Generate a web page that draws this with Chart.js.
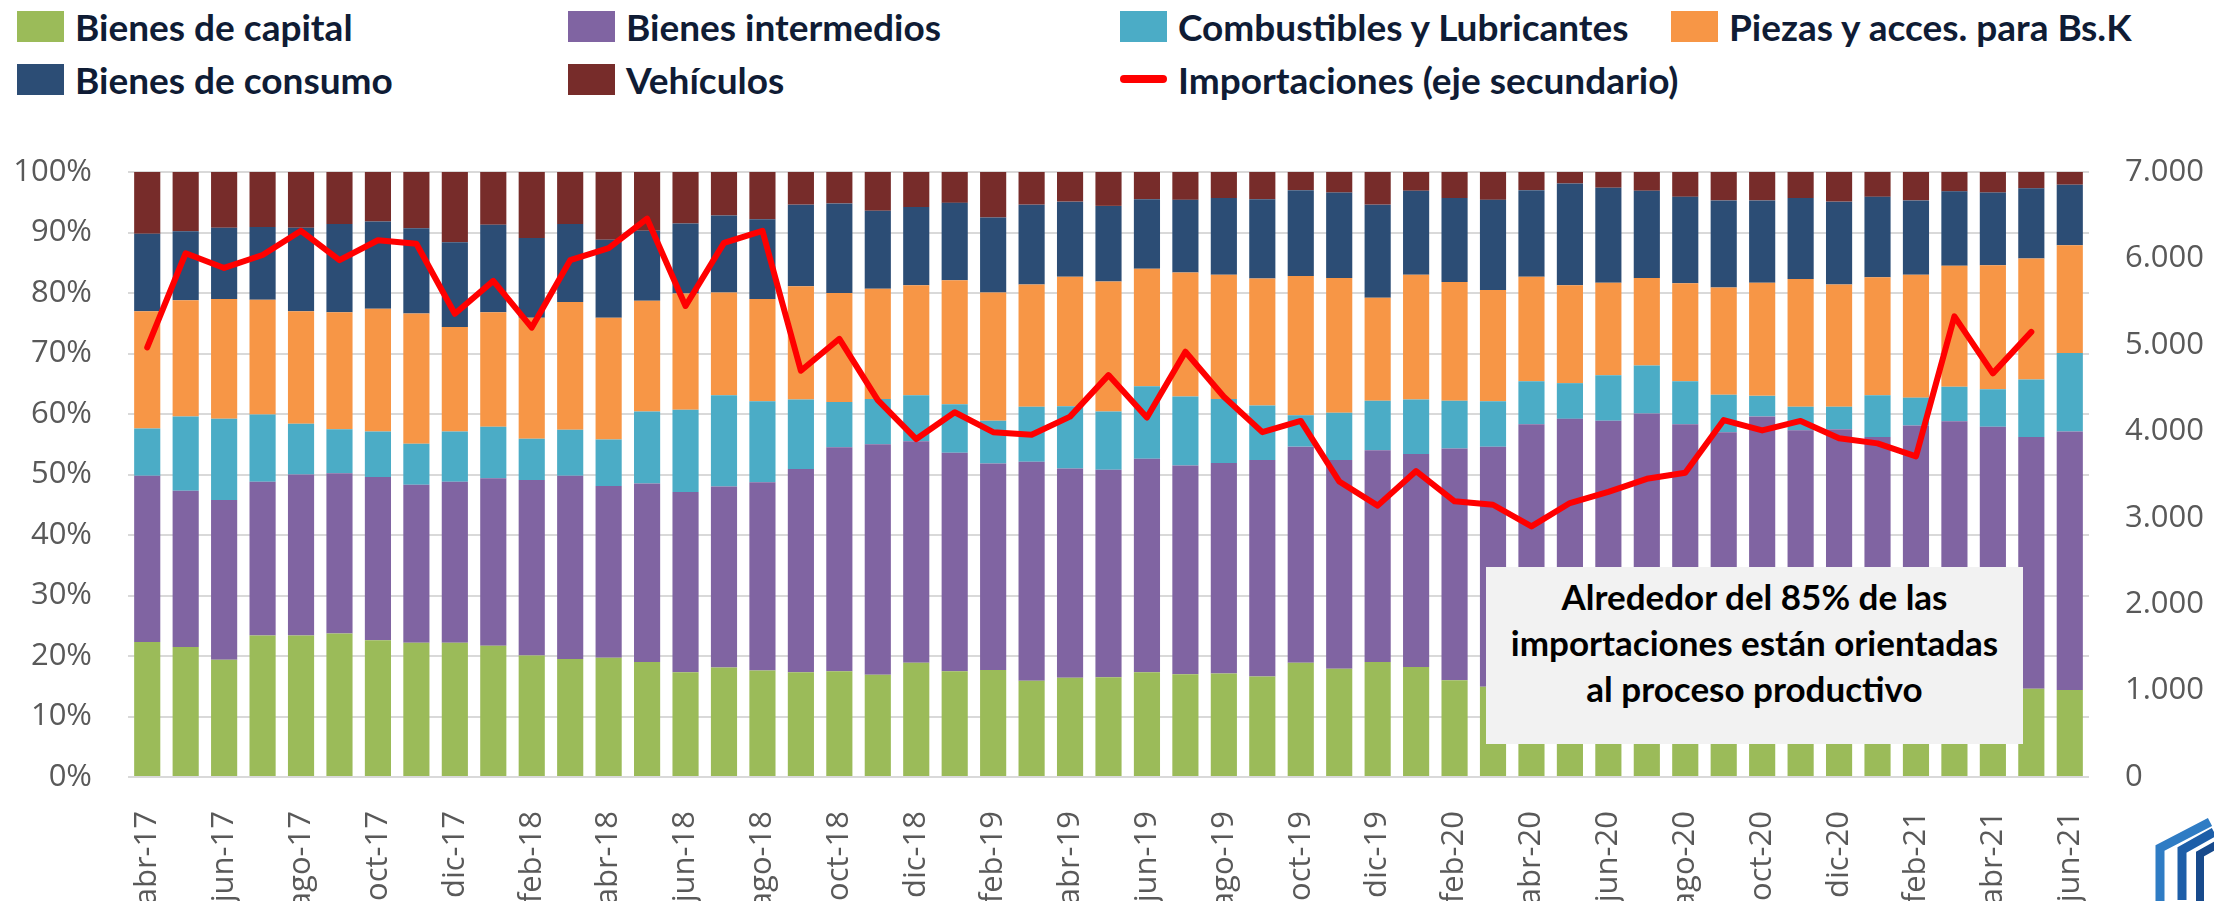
<!DOCTYPE html>
<html lang="es">
<head>
<meta charset="utf-8">
<script src="https://cdn.jsdelivr.net/npm/chart.js"></script>
<style>
  body { margin: 0; width: 2214px; height: 901px; overflow: hidden; background: #fff; position: relative; }
  #wrap { position: absolute; left: 0; top: 0; width: 2214px; height: 960px; }
  #legend { position: absolute; left: 17px; top: 9px; display: grid;
            grid-template-columns: 551px 552px 551px 520px; grid-auto-rows: 34px; row-gap: 19px; }
  .item { display: flex; align-items: center; font: 700 37px 'Lato', sans-serif; color: #0f1c35; white-space: nowrap; }
  .swatch { width: 47px; height: 31px; margin-right: 11px; flex: none; }
  .swatch.line { height: 8px; border-radius: 4px; }
  #nota { position: absolute; left: 1486px; top: 567px; width: 537px; height: 177px; background: #f2f2f2;
          box-sizing: border-box; padding-top: 6px; text-align: center;
          font: 700 35px/46px 'Lato', sans-serif; color: #000; }
  .logo { position: absolute; left: 2138px; top: 818px; width: 80px; height: 90px; }
</style>
</head>
<body>

<div id="legend"></div>
<div id="wrap"><canvas id="importChart"></canvas></div>
<div id="nota">Alrededor del 85% de las<br>importaciones están orientadas<br>al proceso productivo</div>

<svg class="logo" viewBox="0 0 80 90">
  <polyline points="76,14 44,32 44,82" fill="none" stroke="#1d5ea8" stroke-width="9"/>
  <polyline points="72,4 22,30 22,90" fill="none" stroke="#2f7cc4" stroke-width="9"/>
  <polyline points="80,26 62,36 62,90" fill="none" stroke="#174a8c" stroke-width="8"/>
</svg>

<script>
  const meses = [
    'abr-17','may-17','jun-17','jul-17','ago-17','sep-17','oct-17','nov-17','dic-17',
    'ene-18','feb-18','mar-18','abr-18','may-18','jun-18','jul-18','ago-18','sep-18','oct-18','nov-18','dic-18',
    'ene-19','feb-19','mar-19','abr-19','may-19','jun-19','jul-19','ago-19','sep-19','oct-19','nov-19','dic-19',
    'ene-20','feb-20','mar-20','abr-20','may-20','jun-20','jul-20','ago-20','sep-20','oct-20','nov-20','dic-20',
    'ene-21','feb-21','mar-21','abr-21','may-21','jun-21'
  ];

  // participación de cada uso económico (%)
  const capital = [22.3,21.5,19.4,23.4,23.4,23.7,22.6,22.2,22.2,21.7, 20.1,19.5,19.7,19.0,17.3,18.1,17.6,17.3,17.5,16.9,
    18.9,17.5,17.7,15.9,16.4,16.5,17.3,17.0,17.1,16.6, 18.9,17.9,19.0,18.2,16.0,14.9,15.3,15.2,15.5,15.6,
    15.4,15.0,15.3,15.1,14.9,15.0,14.8,14.9,14.7,14.6, 14.4];
  const intermedios = [27.5,25.8,26.4,25.4,26.6,26.5,27.0,26.1,26.6,27.7, 29.0,30.3,28.4,29.5,29.8,29.9,31.1,33.6,37.0,38.1,
    36.6,36.1,34.1,36.2,34.6,34.3,35.3,34.5,34.8,35.8, 35.7,34.5,35.0,35.2,38.3,39.7,43.0,44.0,43.4,44.5,
    42.9,42.0,44.3,42.2,42.6,41.2,43.3,43.9,43.2,41.6, 42.7];
  const combustibles = [7.8,12.3,13.4,11.1,8.4,7.3,7.5,6.8,8.3,8.5, 6.8,7.6,7.7,11.9,13.6,15.1,13.4,11.5,7.5,7.5,
    7.6,8.0,7.1,9.1,10.3,9.6,12.0,11.4,10.6,9.0, 5.2,7.8,8.2,9.0,7.9,7.5,7.1,5.9,7.5,7.9,
    7.1,6.2,3.4,3.9,3.7,6.9,4.6,5.7,6.2,9.5, 13.0];
  const piezas = [19.4,19.2,19.8,19.0,18.6,19.3,20.3,21.5,17.3,18.9, 20.0,21.1,20.1,18.3,19.2,17.0,16.9,18.7,18.0,18.2,
    18.2,20.5,21.2,20.2,21.4,21.5,19.4,20.5,20.5,21.0, 23.0,22.3,17.0,20.6,19.6,18.4,17.3,16.2,15.3,14.5,
    16.2,17.7,18.7,21.1,20.2,19.5,20.3,20.0,20.5,20.0, 17.8];
  const consumo = [12.8,11.4,11.8,12.0,13.8,14.6,14.4,14.1,14.0,14.5, 13.2,12.9,12.9,11.6,11.6,12.7,13.2,13.5,14.8,12.9,
    12.9,12.8,12.4,13.2,12.4,12.5,11.5,12.0,12.7,13.1, 14.2,14.1,15.4,13.9,13.9,14.9,14.3,16.8,15.7,14.4,
    14.3,14.4,13.6,13.4,13.7,13.3,12.3,12.3,12.0,11.6, 10.0];
  const vehiculos = [10.2,9.8,9.2,9.1,9.2,8.6,8.2,9.3,11.6,8.7, 10.9,8.6,11.2,9.7,8.5,7.2,7.8,5.4,5.2,6.4,
    5.8,5.1,7.5,5.4,4.9,5.6,4.5,4.6,4.3,4.5, 3.0,3.4,5.4,3.1,4.3,4.6,3.0,1.9,2.6,3.1,
    4.1,4.7,4.7,4.3,4.9,4.1,4.7,3.2,3.4,2.7, 2.1];

  // importaciones totales (eje secundario)
  const importaciones = [4970,6060,5890,6040,6320,5980,6210,6170,5360,5740, 5200,5980,6120,6460,5450,6180,6320,4700,5070,4360,
    3910,4220,3990,3960,4170,4650,4160,4920,4400,3990, 4120,3420,3140,3540,3190,3150,2900,3170,3300,3450,
    3520,4130,4010,4120,3920,3860,3710,5330,4670,5150, null];

  const ticksPct = [0,10,20,30,40,50,60,70,80,90,100];
  const ticksMonto = [0,1000,2000,3000,4000,5000,6000,7000];

  const series = [
    { label: 'Bienes de capital', data: capital, color: '#9bbb59' },
    { label: 'Bienes intermedios', data: intermedios, color: '#8064a2' },
    { label: 'Combustibles y Lubricantes', data: combustibles, color: '#4bacc6' },
    { label: 'Piezas y acces. para Bs.K', data: piezas, color: '#f79646' },
    { label: 'Bienes de consumo', data: consumo, color: '#2c4d75' },
    { label: 'Vehículos', data: vehiculos, color: '#772c2a' }
  ];

  const datasets = series.map(s => ({
    type: 'bar', label: s.label, data: s.data, backgroundColor: s.color,
    yAxisID: 'y', stack: 'uso', order: 1,
    barPercentage: 0.68, categoryPercentage: 1
  }));
  datasets.push({
    type: 'line', label: 'Importaciones (eje secundario)', data: importaciones,
    yAxisID: 'y1', borderColor: '#ff0000', borderWidth: 6, pointRadius: 0,
    borderJoinStyle: 'round', borderCapStyle: 'round', tension: 0, order: 0
  });

  // leyenda en cuadrícula de 4 columnas
  const legend = document.getElementById('legend');
  datasets.forEach(ds => {
    const it = document.createElement('div');
    it.className = 'item';
    const sw = document.createElement('span');
    sw.className = ds.type === 'line' ? 'swatch line' : 'swatch';
    sw.style.background = ds.type === 'line' ? ds.borderColor : ds.backgroundColor;
    it.appendChild(sw);
    it.appendChild(document.createTextNode(ds.label));
    legend.appendChild(it);
  });

  const tickFont = { family: 'Open Sans', size: 31 };
  const miles = v => String(v).replace(/\B(?=(\d{3})+(?!\d))/g, '.');

  new Chart(document.getElementById('importChart'), {
    data: { labels: meses, datasets: datasets },
    options: {
      responsive: true,
      maintainAspectRatio: false,
      animation: false,
      events: [],
      layout: { padding: { top: 172, left: 0, right: 0, bottom: 0 } },
      plugins: { legend: { display: false }, tooltip: { enabled: false } },
      scales: {
        x: {
          stacked: true,
          grid: { display: false },
          border: { display: false },
          ticks: {
            autoSkip: false, minRotation: 90, maxRotation: 90, padding: 26,
            color: '#595959', font: tickFont,
            callback: function (v, i) { return i % 2 === 0 ? this.getLabelForValue(v) : ''; }
          },
          afterFit: s => { s.height = 183; }
        },
        y: {
          stacked: true, min: 0, max: 100,
          afterBuildTicks: s => { s.ticks = ticksPct.map(v => ({ value: v })); },
          grid: { color: '#d9d9d9', lineWidth: 2, drawTicks: false },
          border: { display: false },
          ticks: { padding: 36, color: '#595959', font: tickFont, callback: v => v + '%' },
          afterFit: s => { s.width = 128; }
        },
        y1: {
          position: 'right', min: 0, max: 7000,
          afterBuildTicks: s => { s.ticks = ticksMonto.map(v => ({ value: v })); },
          grid: { display: false, drawTicks: false },
          border: { display: false },
          ticks: { padding: 36, color: '#595959', font: tickFont, callback: v => miles(v) },
          afterFit: s => { s.width = 125; }
        }
      }
    }
  });
</script>
</body>
</html>
